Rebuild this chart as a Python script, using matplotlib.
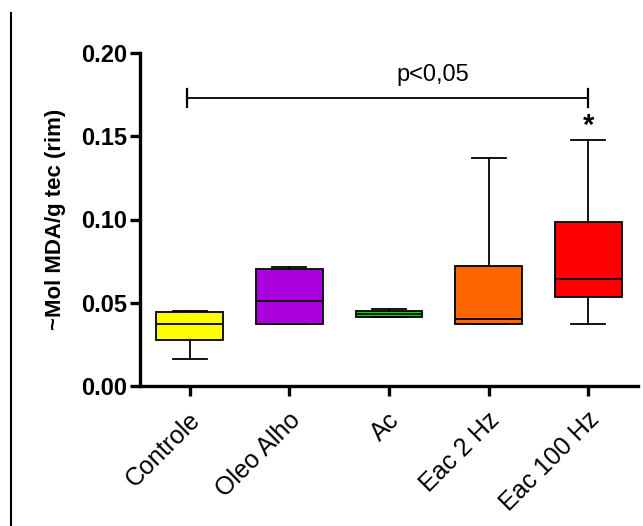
import matplotlib
matplotlib.use("Agg")
import matplotlib.pyplot as plt
import matplotlib.transforms as mtransforms
from matplotlib.lines import Line2D

groups = ["Controle", "Oleo Alho", "Ac", "Eac 2 Hz", "Eac 100 Hz"]
colors = ["#ffff00", "#aa00dd", "#00dd00", "#ff6600", "#ff0000"]

# five-number summaries
whislo = [0.0162, 0.0373, 0.0413, 0.0373, 0.0373]
q1 = [0.0275, 0.0373, 0.0413, 0.0373, 0.0537]
med = [0.0371, 0.0513, 0.0433, 0.0400, 0.0643]
q3 = [0.0443, 0.0705, 0.0453, 0.0720, 0.0987]
whishi = [0.0453, 0.0713, 0.0464, 0.1370, 0.1480]

yticks = [0.00, 0.05, 0.10, 0.15, 0.20]
bracket_y = 0.1729

plt.rcParams['font.family'] = ['Liberation Sans', 'DejaVu Sans']

fig = plt.figure(figsize=(6.43, 5.26), dpi=100)
ax = fig.add_axes([140/643, 1-386/526, 498/643, 333/526])

stats = []
for i, g in enumerate(groups):
    stats.append({"label": g, "whislo": whislo[i], "q1": q1[i], "med": med[i],
                  "q3": q3[i], "whishi": whishi[i], "fliers": []})

bp = ax.bxp(stats, positions=range(1, 6), widths=0.67, patch_artist=True,
            showfliers=False,
            boxprops=dict(linewidth=1.3, edgecolor="black"),
            medianprops=dict(color="black", linewidth=1.3),
            whiskerprops=dict(linewidth=1.3, color="black"),
            capprops=dict(linewidth=1.3, color="black"),
            capwidths=0.34)
for patch, c in zip(bp["boxes"], colors):
    patch.set_facecolor(c)

ax.set_xlim(0.5, 5.5)
ax.set_ylim(0, 0.20)
ax.set_yticks(yticks)
ax.set_yticklabels(["%.2f" % v for v in yticks], fontsize=17, fontweight="bold")
ax.set_xticks(range(1, 6))
ax.set_xticklabels([])
ax.set_ylabel("~Mol MDA/g tec (rim)", fontsize=16, fontweight="bold", labelpad=11)

# rotated group labels placed under each tick
lbl_trans = ax.get_xaxis_transform() + mtransforms.ScaledTranslation(
    0.07, -0.30, fig.dpi_scale_trans)
for i, g in enumerate(groups):
    ax.text(i + 1, 0, g, transform=lbl_trans, rotation=45, ha="right", va="center",
            rotation_mode="anchor", fontsize=18)

for s in ["top", "right"]:
    ax.spines[s].set_visible(False)
for s in ["left", "bottom"]:
    ax.spines[s].set_linewidth(2.4)
ax.tick_params(axis="both", width=2.4, length=7, direction="out")
ax.tick_params(axis="y", pad=2)

# significance bracket
ax.plot([0.97, 5.0], [bracket_y, bracket_y], color="black", lw=1.3, clip_on=False)
ax.plot([0.97, 0.97], [bracket_y - 0.0055, bracket_y + 0.0055], color="black", lw=1.6, clip_on=False)
ax.plot([5.0, 5.0], [bracket_y - 0.0055, bracket_y + 0.0055], color="black", lw=1.6, clip_on=False)
ax.text(3.44, 0.187, "p<0,05", ha="center", va="center", fontsize=17)
ax.text(5.0, 0.156, "*", ha="center", va="center", fontsize=21, fontweight="bold")

fig.add_artist(Line2D([10.7/643, 10.7/643], [0, 1-13/526], color="black", lw=1.5))

fig.savefig("out.png", dpi=100)
